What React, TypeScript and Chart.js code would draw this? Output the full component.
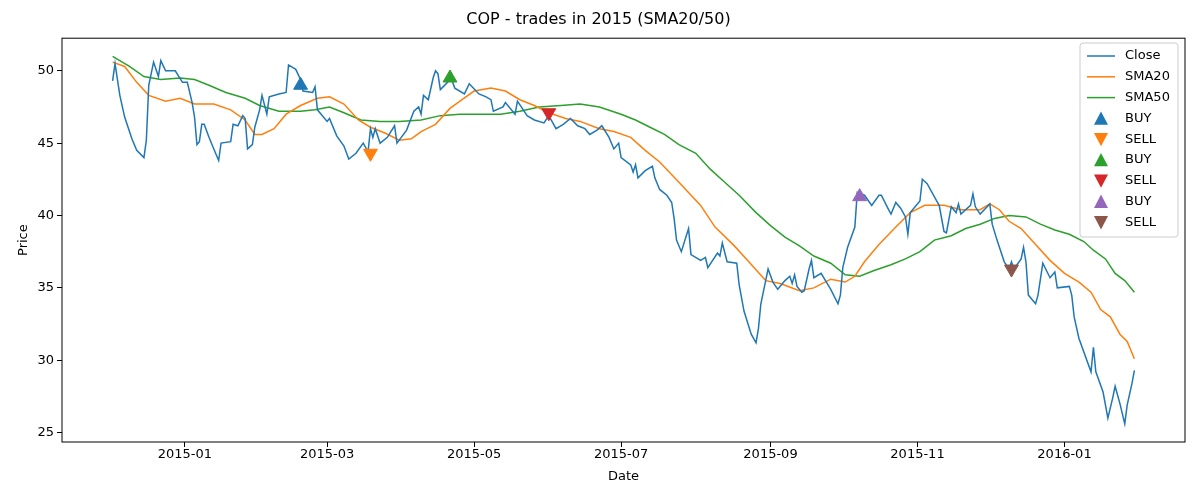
import { useEffect, useRef } from "react";
import { Chart, registerables } from "chart.js";

Chart.register(...registerables);

// days counted from 2015-01-01
const closeDays = [-30,-29,-27,-25,-22,-20,-17,-16,-15,-13,-11,-10,-8,-4,-1,1,3,4,5,6,7,8,10,12,14,15,19,20,22,24,25,26,28,29,31,32,34,35,39,42,43,46,48,49,53,54,55,59,60,63,66,68,71,74,76,77,78,79,81,84,87,88,92,95,97,98,99,101,103,104,105,106,109,110,112,116,118,122,125,127,128,132,133,137,138,142,145,149,151,154,157,160,163,166,168,171,173,176,178,180,181,185,186,187,188,191,194,195,197,200,202,203,204,206,209,210,214,216,217,221,222,223,225,229,230,232,235,237,238,239,241,242,244,246,249,251,252,253,254,256,257,259,260,261,264,268,271,272,273,275,278,279,282,285,288,289,292,293,295,297,299,300,301,303,305,306,308,312,313,315,316,318,320,321,322,326,327,328,330,334,335,337,340,342,343,344,347,348,349,350,353,354,356,359,361,362,367,368,369,371,376,377,378,381,383,385,386,388,390,391,393,394];
const closeVals = [49.3,50.5,48.3,46.8,45.3,44.5,44.0,45.2,49.0,50.6,49.6,50.7,50.0,50.0,49.2,49.2,47.8,46.8,44.9,45.1,46.3,46.3,45.4,44.6,43.8,45.0,45.1,46.3,46.2,46.9,46.7,44.6,44.9,46.1,47.3,48.3,47.0,48.2,48.4,48.5,50.4,50.1,49.4,48.6,48.5,48.9,47.3,46.5,46.7,45.5,44.8,43.9,44.3,45.0,44.4,46.0,45.4,46.0,45.0,45.4,46.2,45.0,45.9,47.2,47.5,47.0,48.3,48.0,49.5,50.0,49.8,48.7,49.2,49.7,48.8,48.4,49.1,48.4,48.2,48.0,47.2,47.5,47.8,47.0,47.9,46.9,46.6,46.4,46.9,46.0,46.3,46.7,46.2,46.0,45.6,45.9,46.2,45.4,44.6,45.0,44.0,43.5,43.0,43.5,42.6,43.1,43.4,42.6,41.8,41.4,40.9,39.8,38.3,37.5,39.1,37.3,36.9,37.1,36.4,37.4,37.2,38.1,36.8,36.7,35.2,33.4,31.8,31.2,32.2,33.9,35.5,36.3,35.4,34.9,35.5,35.8,35.3,35.9,35.1,34.7,34.8,36.3,36.9,35.7,36.0,34.9,33.9,34.5,36.4,37.8,39.2,41.6,41.4,40.7,41.4,41.4,40.4,40.1,40.9,40.5,39.9,38.7,40.2,40.6,41.0,42.5,42.2,41.0,40.7,38.9,38.8,40.6,40.2,40.8,40.1,40.7,41.5,40.6,40.1,40.8,39.4,38.3,36.8,36.3,36.8,36.3,37.0,37.8,36.8,34.5,33.9,34.5,36.7,35.7,36.1,35.0,35.1,34.5,33.0,31.5,29.2,30.9,29.2,27.8,26.0,27.4,28.2,27.0,25.6,26.9,28.4,29.3];

const sma20Days = [-30,-25,-20,-15,-8,-2,4,12,19,25,29,32,37,42,48,55,60,66,72,77,83,89,94,98,104,110,115,120,127,133,139,145,151,158,164,172,178,185,191,197,205,214,220,228,234,241,247,255,261,268,274,278,282,288,295,301,307,315,322,330,334,338,342,347,353,359,365,371,376,380,384,388,391,394];
const sma20Vals = [50.6,50.3,49.2,48.3,47.9,48.1,47.7,47.7,47.3,46.6,45.6,45.6,46.0,47.0,47.6,48.1,48.2,47.7,46.6,46.1,45.7,45.2,45.3,45.8,46.3,47.4,48.0,48.6,48.8,48.6,48.0,47.6,47.1,46.7,46.5,46.0,45.8,45.4,44.5,43.7,42.3,40.7,39.2,37.9,36.8,35.5,35.3,34.8,35.0,35.6,35.4,35.8,36.8,38.0,39.2,40.2,40.7,40.7,40.4,40.4,40.8,40.4,39.6,39.1,38.0,36.9,36.0,35.4,34.7,33.5,33.0,31.8,31.3,30.1];

const sma50Days = [-30,-23,-17,-10,-2,4,10,17,25,31,39,48,54,60,66,73,81,89,98,106,114,122,131,139,147,156,164,172,181,187,193,199,205,212,218,224,230,237,243,249,255,261,268,274,280,286,293,299,305,311,318,324,330,336,342,349,355,361,367,373,377,382,386,390,394];
const sma50Vals = [51.0,50.3,49.6,49.4,49.5,49.4,49.0,48.5,48.1,47.6,47.2,47.2,47.3,47.5,47.1,46.6,46.5,46.5,46.6,46.9,47.0,47.0,47.0,47.2,47.5,47.6,47.7,47.5,47.0,46.6,46.1,45.6,44.9,44.3,43.2,42.3,41.4,40.2,39.3,38.5,37.9,37.2,36.7,35.9,35.8,36.2,36.6,37.0,37.5,38.3,38.6,39.1,39.4,39.8,40.0,39.9,39.4,39.0,38.7,38.2,37.6,37.0,36.0,35.5,34.7];

const tradeDays = [48, 77, 110, 151, 280, 343];
const tradePrices = [49.0, 44.3, 49.5, 47.1, 41.3, 36.3];
const tradeLabels = ["BUY", "SELL", "BUY", "SELL", "BUY", "SELL"];
const tradeColors = ["#1f77b4", "#ff7f0e", "#2ca02c", "#d62728", "#9467bd", "#8c564b"];

const tickDays = [0, 59, 120, 181, 243, 304, 365];
const tickLabels = ["2015-01", "2015-03", "2015-05", "2015-07", "2015-09", "2015-11", "2016-01"];
const yTicks = [25, 30, 35, 40, 45, 50];

const FONT = "'DejaVu Sans', sans-serif";

const pts = (d: number[], v: number[]) => d.map((x, i) => ({ x, y: v[i] }));

const boxLegend = {
  id: "boxLegend",
  afterDraw(chart: any) {
    const { ctx, chartArea: a } = chart;
    ctx.save();
    ctx.strokeStyle = "#000";
    ctx.lineWidth = 1;
    ctx.strokeRect(a.left, a.top, a.right - a.left, a.bottom - a.top);
    const x0 = 1080, y0 = 43, w = 98, rowH = 20.8;
    ctx.fillStyle = "rgba(255,255,255,0.8)";
    ctx.strokeStyle = "#cccccc";
    ctx.beginPath();
    ctx.roundRect(x0, y0, w, 194, 3);
    ctx.fill();
    ctx.stroke();
    ctx.font = `13px ${FONT}`;
    ctx.textBaseline = "middle";
    const lines = [["Close", "#1f77b4"], ["SMA20", "#ff7f0e"], ["SMA50", "#2ca02c"]];
    lines.forEach(([t, c], i) => {
      const y = y0 + 13 + i * rowH;
      ctx.strokeStyle = c;
      ctx.lineWidth = 1.5;
      ctx.beginPath();
      ctx.moveTo(x0 + 7, y);
      ctx.lineTo(x0 + 35, y);
      ctx.stroke();
      ctx.fillStyle = "#000";
      ctx.fillText(t, x0 + 45, y);
    });
    tradeLabels.forEach((t, i) => {
      const y = y0 + 13 + (i + 3) * rowH;
      const cx = x0 + 21, s = 7;
      ctx.fillStyle = tradeColors[i];
      ctx.beginPath();
      if (t === "BUY") {
        ctx.moveTo(cx, y - s); ctx.lineTo(cx + s, y + s * 0.9); ctx.lineTo(cx - s, y + s * 0.9);
      } else {
        ctx.moveTo(cx, y + s); ctx.lineTo(cx + s, y - s * 0.9); ctx.lineTo(cx - s, y - s * 0.9);
      }
      ctx.closePath();
      ctx.fill();
      ctx.fillStyle = "#000";
      ctx.fillText(t, x0 + 45, y);
    });
    ctx.restore();
  },
};

export default function App() {
  const canvasRef = useRef<HTMLCanvasElement>(null);

  useEffect(() => {
    if (!canvasRef.current) return;
    const lineDs = (label: string, d: number[], v: number[], color: string) => ({
      type: "line" as const, label, data: pts(d, v), borderColor: color, backgroundColor: color,
      borderWidth: 1.5, pointRadius: 0, tension: 0, order: 2,
    });
    const chart = new Chart(canvasRef.current, {
      type: "line",
      data: {
        datasets: [
          lineDs("Close", closeDays, closeVals, "#1f77b4"),
          lineDs("SMA20", sma20Days, sma20Vals, "#ff7f0e"),
          lineDs("SMA50", sma50Days, sma50Vals, "#2ca02c"),
          ...tradeDays.map((d, i) => ({
            type: "scatter" as const, label: tradeLabels[i], data: [{ x: d, y: tradePrices[i] }],
            pointStyle: "triangle", rotation: tradeLabels[i] === "SELL" ? 180 : 0,
            pointRadius: 8, backgroundColor: tradeColors[i], borderColor: tradeColors[i], order: 1,
          })),
        ],
      } as any,
      options: {
        animation: false,
        responsive: false,
        layout: { padding: { left: 12, right: 15, top: 0, bottom: 12 } },
        plugins: {
          legend: { display: false },
          tooltip: { enabled: false },
          title: { display: true, text: "COP - trades in 2015 (SMA20/50)", color: "#000", font: { family: FONT, size: 16, weight: "normal" }, padding: { top: 10, bottom: 9 } },
        },
        scales: {
          x: {
            type: "linear", min: -51, max: 415,
            afterBuildTicks: (s: any) => { s.ticks = tickDays.map((v) => ({ value: v })); },
            afterFit: (s: any) => { s.height = 46; },
            ticks: { color: "#000", font: { family: FONT, size: 13 }, maxRotation: 0, padding: 0,
              callback: (v: any) => tickLabels[tickDays.indexOf(Number(v))] ?? "" },
            grid: { drawOnChartArea: false, tickLength: 5, color: "#000" },
            border: { display: false },
            title: { display: true, text: "Date", color: "#000", font: { family: FONT, size: 13 }, padding: { top: 2 } },
          },
          y: {
            type: "linear", min: 24.35, max: 52.25,
            afterBuildTicks: (s: any) => { s.ticks = yTicks.map((v) => ({ value: v })); },
            afterFit: (s: any) => { s.width = 50; },
            ticks: { color: "#000", font: { family: FONT, size: 13 }, padding: 3 },
            grid: { drawOnChartArea: false, tickLength: 5, color: "#000" },
            border: { display: false },
            title: { display: true, text: "Price", color: "#000", font: { family: FONT, size: 13 }, padding: { bottom: 4 } },
          },
        },
      } as any,
      plugins: [boxLegend],
    });
    return () => chart.destroy();
  }, []);

  return (
    <div style={{ position: "fixed", left: 0, top: 0, width: 1200, height: 500, background: "#fff" }}>
      <canvas ref={canvasRef} width={1200} height={500} style={{ width: 1200, height: 500 }} />
    </div>
  );
}
